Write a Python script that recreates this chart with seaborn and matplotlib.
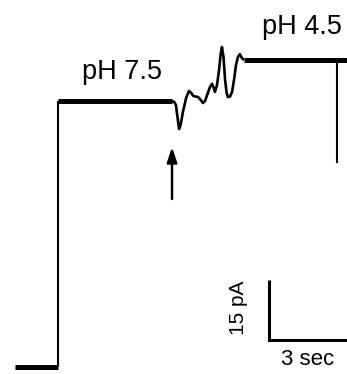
import matplotlib
matplotlib.use("Agg")
import matplotlib.pyplot as plt
import seaborn as sns
import pandas as pd

# ---- data (time in s, current in pA, relative to baseline) ----
baseline_t = [0.0, 1.65]
baseline_i = [0.0, 0.0]

step_t = [1.65, 1.65]
step_i = [0.0, 66.5]

plateau75_t = [1.65, 6.04]
plateau75_i = [66.5, 66.5]

osc_t = [6.04, 6.12, 6.19, 6.26, 6.31, 6.37, 6.46, 6.58, 6.69, 6.78, 6.85, 6.95, 7.04,
         7.14, 7.23, 7.31, 7.38, 7.50, 7.58, 7.64, 7.69, 7.77, 7.85, 7.91, 7.96, 8.02,
         8.08, 8.14, 8.19, 8.27, 8.35, 8.43, 8.50, 8.58, 8.65, 8.73, 8.81]
osc_i = [66.5, 66.3, 65.5, 62.0, 59.5, 60.5, 63.8, 67.2, 69.0, 68.5, 67.8, 67.6, 67.5,
         66.8, 66.0, 66.5, 67.8, 70.0, 70.8, 69.8, 68.8, 70.5, 74.3, 78.2, 80.0, 77.5,
         71.8, 68.5, 67.5, 67.6, 68.8, 72.0, 75.5, 77.6, 78.2, 77.2, 76.75]

plateau45_t = [8.81, 12.37, 12.37, 12.77]
plateau45_i = [76.75, 76.75, 76.75, 76.75]

spike_t = [12.37, 12.37]
spike_i = [76.75, 51.0]

scale_pa = 15
scale_sec = 3
labels = ["pH 7.5", "pH 4.5"]

# ---- figure ----
sns.set_style("white")
plt.rcParams["font.family"] = ["Liberation Sans", "DejaVu Sans"]
plt.rcParams["text.color"] = "black"

fig = plt.figure(figsize=(3.47, 3.74), dpi=100)
ax = fig.add_axes([0, 0, 1, 1])

def seg(t, i, lw):
    df = pd.DataFrame({"t": t, "i": i})
    sns.lineplot(data=df, x="t", y="i", ax=ax, color="black", linewidth=lw,
                 sort=False, estimator=None, solid_joinstyle="round",
                 solid_capstyle="butt")

seg(baseline_t, baseline_i, 3.6)
seg(step_t, step_i, 1.5)
seg(plateau75_t, plateau75_i, 3.6)
seg(osc_t, osc_i, 1.9)
seg(plateau45_t, plateau45_i, 3.6)
seg(spike_t, spike_i, 1.5)

ax.set_xlim(-0.577, 12.77)
ax.set_ylim(-1.75, 91.75)
ax.axis("off")

# labels
ax.text(4.1, 73.8, labels[0], ha="center", va="center", fontsize=19.5, color="black")
ax.text(11.05, 85.0, labels[1], ha="center", va="center", fontsize=19.5, color="black")

# arrow
ax.annotate("", xy=(6.04, 55.0), xytext=(6.04, 42.0),
            arrowprops=dict(arrowstyle="-|>,head_length=0.9,head_width=0.3",
                            color="black", lw=1.8, shrinkA=0, shrinkB=0))

# scale bar
sb_t0, sb_i0 = 9.77, 6.75
ax.plot([sb_t0, sb_t0], [sb_i0, sb_i0 + scale_pa], color="black", lw=2.2,
        solid_capstyle="butt")
ax.plot([sb_t0, sb_t0 + scale_sec], [sb_i0, sb_i0], color="black", lw=2.2,
        solid_capstyle="projecting")
ax.text(8.6, 14.75, f"{scale_pa} pA", rotation=90, ha="center", va="center",
        fontsize=15, color="black")
ax.text(11.27, 1.9, f"{scale_sec} sec", ha="center", va="center", fontsize=16,
        color="black")

fig.savefig("out.png", dpi=100)
